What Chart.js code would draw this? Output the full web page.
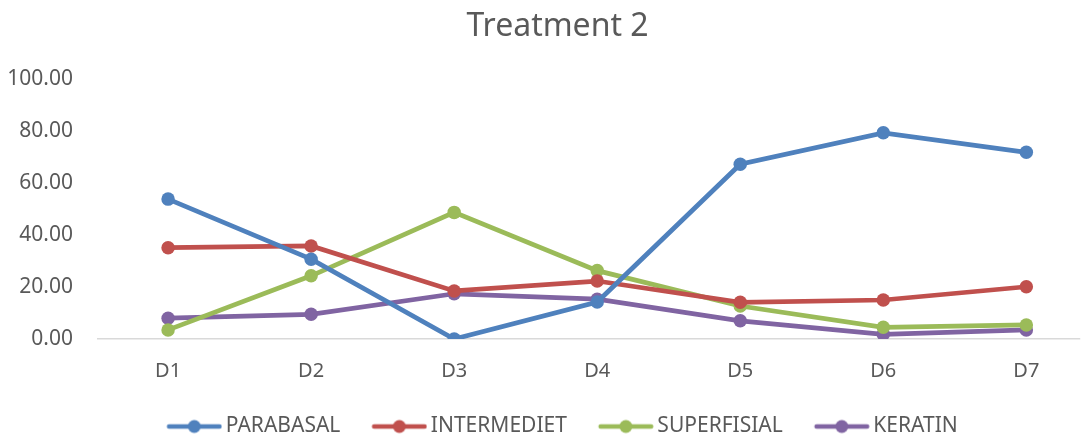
<!DOCTYPE html>
<html>
<head>
<meta charset="utf-8">
<script src="https://cdn.jsdelivr.net/npm/chart.js@4.4.0/dist/chart.umd.min.js"></script>
<style>
  html, body { margin: 0; padding: 0; background: #ffffff; }
  #wrap { width: 1087px; height: 439px; position: relative; }
</style>
</head>
<body>
<div id="wrap"><canvas id="c" width="1087" height="439"></canvas></div>
<script>
const categories = ["D1", "D2", "D3", "D4", "D5", "D6", "D7"];
const parabasal   = [53.8, 30.7, 0.0, 14.2, 67.2, 79.3, 71.8];
const intermediet = [35.1, 35.8, 18.5, 22.3, 14.1, 15.0, 20.1];
const superfisial = [3.5, 24.3, 48.7, 26.3, 12.7, 4.5, 5.4];
const keratin     = [8.0, 9.5, 17.4, 15.3, 7.0, 1.8, 3.5];
const yTicks = [0, 20, 40, 60, 80, 100];

const seriesNames = ["PARABASAL", "INTERMEDIET", "SUPERFISIAL", "KERATIN"];
const seriesColors = ["#4F81BD", "#C0504D", "#9BBB59", "#8064A2"];
const seriesData = [parabasal, intermediet, superfisial, keratin];

function legendIcon(color) {
  const cv = document.createElement('canvas');
  cv.width = 88; cv.height = 16;
  const g = cv.getContext('2d');
  g.strokeStyle = color; g.lineWidth = 4.5; g.lineCap = 'round';
  g.beginPath(); g.moveTo(34.75, 8); g.lineTo(85.25, 8); g.stroke();
  g.fillStyle = color;
  g.beginPath(); g.arc(60, 8, 6.5, 0, Math.PI * 2); g.fill();
  return cv;
}

const datasets = seriesNames.map((n, i) => ({
  label: n,
  data: seriesData[i].map((v, k) => ({ x: k, y: v })),
  borderColor: seriesColors[i],
  backgroundColor: seriesColors[i],
  borderWidth: 4.75,
  pointRadius: 6.75,
  pointHoverRadius: 6.75,
  pointBorderWidth: 0,
  tension: 0,
  fill: false,
  pointStyle: 'circle',
  legendIcon: legendIcon(seriesColors[i])
}));

const txt = '#595959';
const nudgeBoxes = {
  id: 'nudgeBoxes',
  afterLayout(chart) {
    const lg = chart.legend;
    if (lg) { lg.top += 8; lg.bottom += 8; lg.left += 6; lg.right += 6; }
    const tt = chart.titleBlock;
    if (tt) { tt.left += 14; tt.right += 14; }
  }
};

new Chart(document.getElementById('c'), {
  type: 'line',
  data: { datasets },
  plugins: [nudgeBoxes],
  options: {
    responsive: false,
    animation: false,
    devicePixelRatio: 1,
    layout: { padding: { left: 0, right: 0, top: 0, bottom: 0 } },
    plugins: {
      title: {
        display: true,
        text: 'Treatment 2',
        color: txt,
        font: { family: 'Noto Sans', size: 32, weight: 'normal', lineHeight: 1.2 },
        padding: { top: 8, bottom: 32.6 }
      },
      legend: {
        position: 'bottom',
        labels: {
          color: txt,
          font: { family: 'Noto Sans', size: 21 },
          usePointStyle: true,
          pointStyleWidth: 74,
          padding: 6,
          generateLabels(chart) {
            return chart.data.datasets.map((d, i) => ({
              text: d.label,
              fillStyle: d.borderColor,
              strokeStyle: d.borderColor,
              fontColor: txt,
              lineWidth: 0,
              pointStyle: d.legendIcon,
              hidden: false,
              datasetIndex: i
            }));
          }
        }
      },
      tooltip: { enabled: false }
    },
    scales: {
      x: {
        type: 'linear',
        min: -0.497,
        max: 6.377,
        afterBuildTicks(s) { s.ticks = categories.map((_, k) => ({ value: k })); },
        afterFit(s) { s.height = 63; },
        grid: { display: false, drawTicks: false },
        border: { display: false },
        ticks: {
          color: txt,
          font: { family: 'Noto Sans', size: 20 },
          padding: 20,
          maxRotation: 0,
          autoSkip: false,
          callback: v => categories[v] ?? ''
        }
      },
      y: {
        min: 0, max: 100,
        afterBuildTicks(s) { s.ticks = yTicks.map(v => ({ value: v })); },
        afterFit(s) { s.width = 97; },
        grid: {
          drawTicks: false,
          color: ctx => ctx.tick.value === 0 ? '#D9D9D9' : 'rgba(0,0,0,0)',
          lineWidth: 1.5
        },
        border: { display: false },
        ticks: {
          color: txt,
          font: { family: 'Noto Sans', size: 21 },
          padding: 24,
          callback: v => Number(v).toFixed(2)
        }
      }
    }
  }
});
</script>
</body>
</html>
